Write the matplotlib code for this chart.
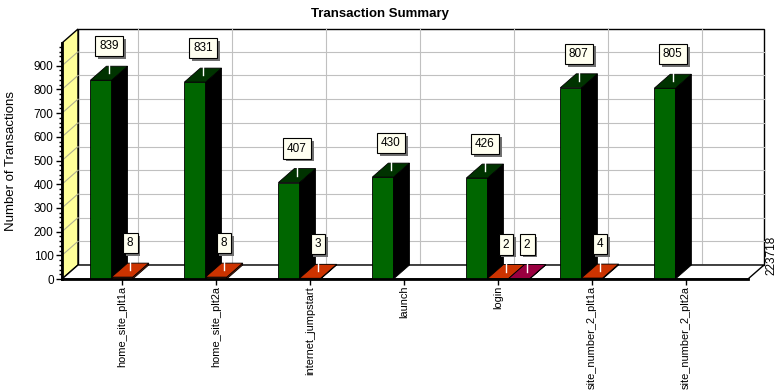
import matplotlib.pyplot as plt
from matplotlib.patches import Polygon
from matplotlib.ticker import MultipleLocator
import matplotlib.patheffects as pe

categories = ["home_site_plt1a", "home_site_plt2a", "internet_jumpstart", "launch",
              "login", "site_number_2_plt1a", "site_number_2_plt2a"]
passed = [839, 831, 407, 430, 426, 807, 805]
failed = [8, 8, 3, 0, 2, 4, 0]
stopped = [0, 0, 0, 0, 2, 0, 0]
right_value = "223718"

series = [(passed, "#006600", "#003300", "#000000"),
          (failed, "#CC3300", "#CC3300", "#8a2200"),
          (stopped, "#990040", "#990040", "#600028")]

plt.rcParams['font.family'] = ['Liberation Sans', 'DejaVu Sans']

fig = plt.figure(figsize=(7.79, 3.90), dpi=100)
ax = fig.add_axes([62 / 779, 111 / 390, 686 / 779, 236 / 390])
xmin, xmax = -0.64, 6.66
ytop = 996
ax.set_xlim(xmin, xmax)
ax.set_ylim(0, ytop)
DX, DY = 0.17, 59
W = 0.225

for s in ["top", "right"]:
    ax.spines[s].set_visible(False)
ax.spines["left"].set_linewidth(2)
ax.spines["bottom"].set_linewidth(2)
ax.spines["left"].set_zorder(20)
ax.spines["bottom"].set_zorder(20)

# back wall
ax.add_patch(Polygon([(xmin + DX, DY), (xmax + DX, DY), (xmax + DX, ytop + DY), (xmin + DX, ytop + DY)],
                     closed=True, facecolor="white", edgecolor="black", lw=1, clip_on=False, zorder=0))
for v in range(100, 1000, 100):
    ax.plot([xmin + DX, xmax + DX], [v + DY, v + DY], color="#c0c0c0", lw=0.8, clip_on=False, zorder=0.5)
for i in range(len(categories)):
    ax.plot([i + DX, i + DX], [DY, ytop + DY], color="#c0c0c0", lw=0.8, clip_on=False, zorder=0.5)

# left wall
ax.add_patch(Polygon([(xmin, 0), (xmin + DX, DY), (xmin + DX, ytop + DY), (xmin, ytop)],
                     closed=True, facecolor="#FFFF99", edgecolor="black", lw=1, clip_on=False, zorder=1))
for v in range(100, 1000, 100):
    ax.plot([xmin, xmin + DX], [v, v + DY], color="#b0b090", lw=0.8, clip_on=False, zorder=1.5)

# floor
ax.add_patch(Polygon([(xmin, 0), (xmax, 0), (xmax + DX, DY), (xmin + DX, DY)],
                     closed=True, facecolor="white", edgecolor="black", lw=1, clip_on=False, zorder=2))

shadow = [pe.SimplePatchShadow(offset=(2, -2), shadow_rgbFace="#707070", alpha=1), pe.Normal()]
z = 3
for i in range(len(categories)):
    for k, (vals, front, top, side) in enumerate(series):
        v = vals[i]
        if v <= 0:
            continue
        x0 = i + (k - 1) * W - W / 2
        x1 = x0 + W
        ax.bar(x0, v, width=W, align="edge", color=front, edgecolor="black", lw=0.6, zorder=z)
        ax.add_patch(Polygon([(x1, 0), (x1 + DX, DY), (x1 + DX, v + DY), (x1, v)],
                             closed=True, facecolor=side, edgecolor="black", lw=0.6, zorder=z))
        ax.add_patch(Polygon([(x0, v), (x1, v), (x1 + DX, v + DY), (x0 + DX, v + DY)],
                             closed=True, facecolor=top, edgecolor="black", lw=0.6, zorder=z + 0.1))
        cx = (x0 + x1) / 2 + DX / 2
        ly = v + DY / 2 + 114
        ax.plot([cx, cx], [v + DY / 2, ly - 28], color="white", lw=1, zorder=z + 0.2, clip_on=False)
        t = ax.text(cx, ly, str(v), ha="center", va="center", fontsize=8.5, color="black",
                    bbox=dict(boxstyle="square,pad=0.35", fc="#FFFFF0", ec="black", lw=0.8), zorder=31)
        t.get_bbox_patch().set_path_effects(shadow)
        z += 1

ax.set_xticks(range(len(categories)))
ax.set_xticklabels(categories, rotation=90, fontsize=7.9)
ax.tick_params(axis="x", length=4, width=1, pad=1)
ax.yaxis.set_major_locator(MultipleLocator(100))
ax.yaxis.set_minor_locator(MultipleLocator(20))
ax.set_yticks(range(0, 1000, 100))
ax.tick_params(axis="y", which="major", length=4, width=1, labelsize=8.5, pad=2)
ax.tick_params(axis="y", which="minor", length=2, width=1)
ax.set_ylabel("Number of Transactions", fontsize=9.5)
ax.yaxis.set_label_coords(-0.065, 0.5)

fig.text(380 / 779, 1 - 14 / 390, "Transaction Summary", ha="center", va="center",
         fontsize=9.5, fontweight="bold")
fig.text(771 / 779, 1 - 255 / 390, right_value, ha="center", va="center", rotation=90, fontsize=8.5)

fig.savefig("out.png", dpi=100)
